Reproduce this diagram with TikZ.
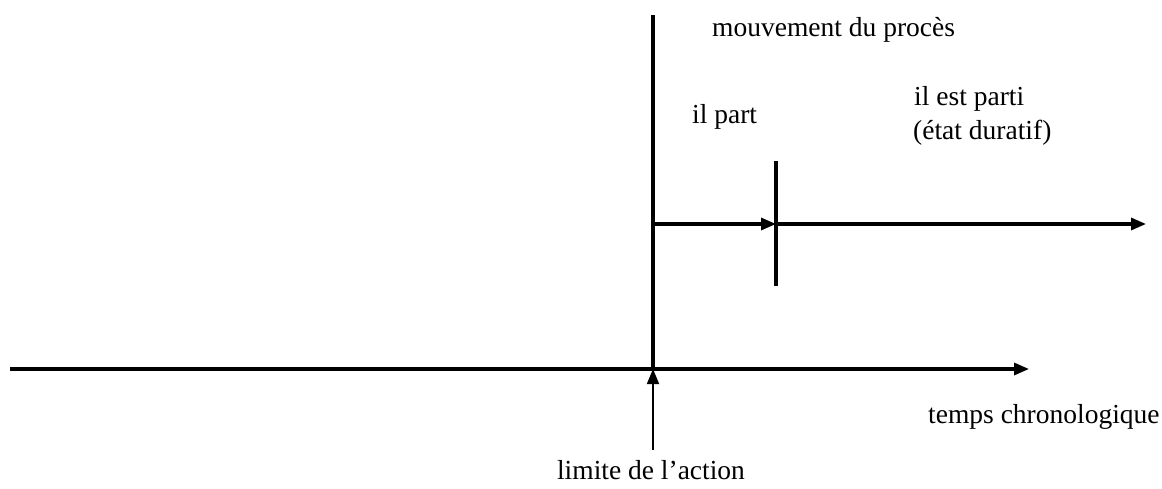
\documentclass[tikz,border=0pt]{standalone}
\usepackage{fontspec}
\setmainfont{Liberation Serif}
\usetikzlibrary{arrows.meta}
\begin{document}
\begin{tikzpicture}[x=1pt,y=-1pt,
  thickline/.style={line width=3.2pt},
  thinline/.style={line width=1.8pt},
  tip/.style={-{Triangle[length=15pt,width=12pt]}},
  lbl/.style={font=\fontsize{27.5}{33}\selectfont, inner sep=0pt}]
\useasboundingbox (0,0) rectangle (1162,488);
% coordinates
\coordinate (axL) at (10,369);
\coordinate (axR) at (1029,369);
\coordinate (vTop) at (653,15);
\coordinate (vBot) at (653,369);
\coordinate (lim) at (653,450);
\coordinate (pStart) at (653,224);
\coordinate (pMid) at (776,224);
\coordinate (pEnd) at (1146,224);
\coordinate (tickT) at (776,161);
\coordinate (tickB) at (776,286);
% lines
\draw[thickline,tip] (axL) -- (axR);
\draw[thickline] (vTop) -- (vBot);
\draw[thinline,tip] (lim) -- (vBot);
\draw[thickline,tip] (pStart) -- (pMid);
\draw[thickline,tip] (pMid) -- (pEnd);
\draw[thickline] (tickT) -- (tickB);
% labels
\node[lbl,anchor=base west] (mv) at (712,36) {mouvement du procès};
\node[lbl,anchor=base west] (ip) at (692,123) {il part};
\node[lbl,anchor=base west] (iep) at (914,105) {il est parti};
\node[lbl,anchor=base west] (ed) at (913,139) {(état duratif)};
\node[lbl,anchor=base west] (tc) at (928,423) {temps chronologique};
\node[lbl,anchor=base] (la) at (651,479) {limite de l’action};
\end{tikzpicture}
\end{document}
